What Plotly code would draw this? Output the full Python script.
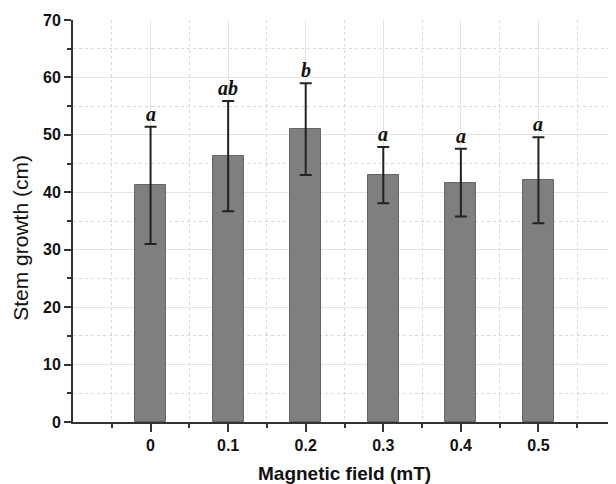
import plotly.graph_objects as go

# Data
field = [0, 0.1, 0.2, 0.3, 0.4, 0.5]
tick_labels = ["0", "0.1", "0.2", "0.3", "0.4", "0.5"]
growth = [41.2, 46.3, 51.0, 43.0, 41.7, 42.1]
err = [10.2, 9.6, 8.0, 4.9, 5.9, 7.5]
letters = ["a", "ab", "b", "a", "a", "a"]

AX = "#333333"
SANS = "Liberation Sans, Arial, sans-serif"

fig = go.Figure()
fig.add_trace(go.Bar(
    x=field, y=growth, width=0.04,
    marker=dict(color="#7f7f7f", line=dict(color="#666666", width=1)),
    error_y=dict(type="data", array=err, visible=True, color="#222222",
                 thickness=2, width=6),
    showlegend=False,
))

for xv, yv, e, lab in zip(field, growth, err, letters):
    fig.add_annotation(
        x=xv, y=yv + e, xref="x", yref="y", text=f"<b><i>{lab}</i></b>",
        showarrow=False, yanchor="bottom", xanchor="center", yshift=0,
        font=dict(family="Liberation Serif, Times New Roman, serif", size=20, color="#111111"),
    )

# Axis titles as annotations
fig.add_annotation(
    x=0.5, y=-0.128, xref="paper", yref="paper", text="<b>Magnetic field (mT)</b>",
    showarrow=False, xanchor="center", yanchor="middle",
    font=dict(family=SANS, size=19, color="#111111"),
)
fig.add_annotation(
    x=-0.096, y=0.458, xref="paper", yref="paper", text="Stem growth (cm)",
    showarrow=False, xanchor="center", yanchor="middle", textangle=-90,
    font=dict(family=SANS, size=21, color="#111111"),
)

# The page body has an 8px margin; size the figure to fit inside the window.
fig.update_layout(
    width=608, height=476,
    margin=dict(l=65, r=0, t=12, b=62),
    plot_bgcolor="white", paper_bgcolor="white",
    font=dict(family=SANS, color="#111111"),
    bargap=0,
)

fig.update_xaxes(
    range=[-0.1, 0.6],
    tickmode="array", tickvals=field, ticktext=[f"<b>{t}</b>" for t in tick_labels],
    tickfont=dict(size=16, family=SANS, color="#111111"),
    ticks="outside", ticklen=8, tickwidth=2, tickcolor=AX,
    showline=True, linecolor=AX, linewidth=2,
    showgrid=True, gridcolor="#e4e4e4", gridwidth=1,
    zeroline=False,
    minor=dict(tickmode="linear", tick0=-0.05, dtick=0.1, ticks="outside",
               ticklen=4, tickwidth=2, tickcolor=AX,
               showgrid=True, gridcolor="#d8d8d8", griddash="dot", gridwidth=1),
)

fig.update_yaxes(
    range=[0, 70],
    tickmode="linear", tick0=0, dtick=10,
    tickprefix="<b>", ticksuffix="</b>",
    tickfont=dict(size=16, family=SANS, color="#111111"),
    ticks="outside", ticklen=7, tickwidth=2, tickcolor=AX,
    showline=True, linecolor=AX, linewidth=2,
    showgrid=True, gridcolor="#e4e4e4", gridwidth=1,
    zeroline=False,
    minor=dict(tickmode="linear", tick0=5, dtick=10, ticks="outside",
               ticklen=4, tickwidth=2, tickcolor=AX,
               showgrid=True, gridcolor="#d8d8d8", griddash="dot", gridwidth=1),
)

fig.write_html("out.html")
